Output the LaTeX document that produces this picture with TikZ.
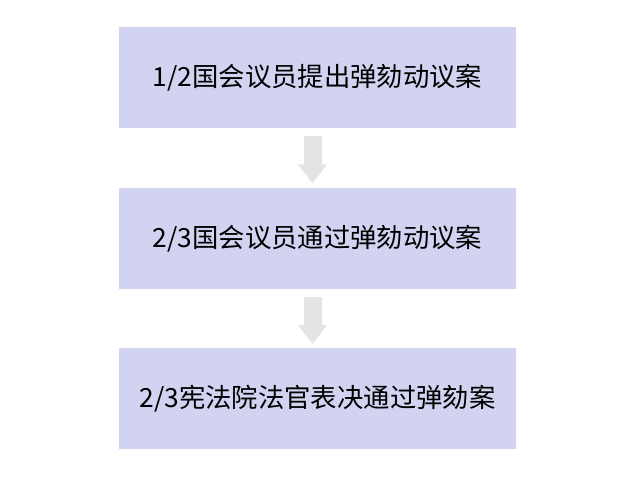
\documentclass[tikz,border=0pt]{standalone}
\usepackage{fontspec}
\newfontfamily\cjk{Noto Sans CJK SC}
\usetikzlibrary{positioning,arrows.meta}
\definecolor{boxfill}{RGB}{210,211,240}
\definecolor{arrowgray}{RGB}{228,228,228}
\tikzset{
  stagebox/.style={rectangle,fill=boxfill,minimum width=7.94cm,minimum height=2.02cm,
    inner sep=0pt,font=\cjk\fontsize{15pt}{18pt}\selectfont},
  flowarrow/.style={draw=arrowgray,line width=0.36cm,
    -{Triangle[width=0.56cm,length=0.38cm]},shorten <=0.16cm,shorten >=0.08cm}
}
\begin{document}
\begin{tikzpicture}
\useasboundingbox (0,0) rectangle (12.42,-9.92);
\node[stagebox] (propose) at (6.35,-1.55) {1/2国会议员提出弹劾动议案};
\node[stagebox,below=1.18cm of propose] (pass) {2/3国会议员通过弹劾动议案};
\node[stagebox,below=1.18cm of pass] (court) {2/3宪法院法官表决通过弹劾案};

\draw[flowarrow] ([xshift=-0.1cm]propose.south) -- ([xshift=-0.1cm]pass.north);
\draw[flowarrow] ([xshift=-0.1cm]pass.south) -- ([xshift=-0.1cm]court.north);
\end{tikzpicture}
\end{document}
